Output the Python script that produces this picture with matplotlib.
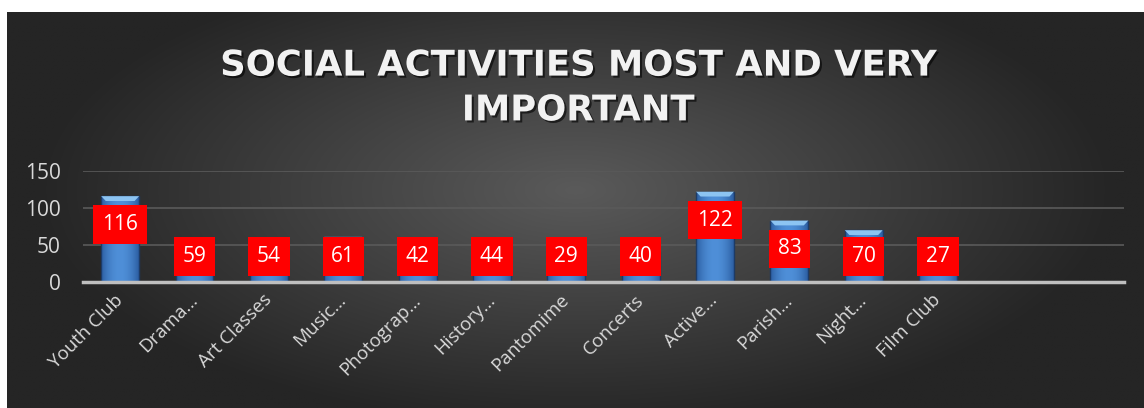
import numpy as np
import matplotlib
matplotlib.use("Agg")
import matplotlib.pyplot as plt
from matplotlib.patches import Polygon
import matplotlib.patheffects as pe

# data
categories = ["Youth Club", "Drama…", "Art Classes", "Music…", "Photograp…",
              "History…", "Pantomime", "Concerts", "Active…", "Parish…",
              "Night…", "Film Club", "", ""]
values = [116, 59, 54, 61, 42, 44, 29, 40, 122, 83, 70, 27]
yticks = [0, 50, 100, 150]
title = "SOCIAL ACTIVITIES MOST AND VERY\nIMPORTANT"

FONT = "Open Sans"
W, H = 1144, 408
fig = plt.figure(figsize=(W / 100, H / 100), dpi=100)
fig.patch.set_facecolor("white")

# dark panel with radial gradient
bg = fig.add_axes([7 / W, 0, 1 - 7 / W, 1 - 12 / H])
bg.set_axis_off()
yy, xx = np.mgrid[-1:1:300j, -1:1:800j]
r = np.sqrt((xx / 0.95) ** 2 + ((yy + 0.1) / 1.2) ** 2)
r = np.clip(r, 0, 1)
c0 = np.array([0x5a, 0x5a, 0x5a]) / 255
c1 = np.array([0x25, 0x25, 0x25]) / 255
img = c0[None, None, :] * (1 - r[..., None]) + c1[None, None, :] * r[..., None]
bg.imshow(img, aspect="auto", extent=[0, 1, 0, 1])
bg.set_xlim(0, 1)
bg.set_ylim(0, 1)

ax = fig.add_axes([83 / W, (H - 282) / H, 1041 / W, 111 / H])
ax.set_facecolor("none")
x = np.arange(len(categories))

for s in ["top", "right", "left"]:
    ax.spines[s].set_visible(False)
ax.spines["bottom"].set_color("#bfbfbf")
ax.spines["bottom"].set_linewidth(2.5)
ax.spines["bottom"].set_zorder(5)

ax.set_yticks(yticks)
ax.yaxis.grid(True, color="#5a5a5a", linewidth=1.2)
ax.set_axisbelow(True)
ax.tick_params(axis="both", length=0, colors="#d9d9d9")
ax.tick_params(axis="y", labelsize=15, pad=16)
for lb in ax.get_yticklabels():
    lb.set_fontfamily(FONT)

ax.set_xticks(x)
ax.set_xticklabels(categories, rotation=45, ha="right", va="center",
                   rotation_mode="anchor", fontsize=13.5, family=FONT,
                   color="#d9d9d9")
ax.tick_params(axis="x", pad=11)

# bars with horizontal gradient
bw = 0.51
bars = ax.bar(x[:len(values)], values, width=bw, color="none",
              edgecolor="#1d3b66", linewidth=1.0, zorder=3)
grad = np.linspace(-1, 1, 64)
shade = 1 - np.abs(grad) ** 2
cdark = np.array([0x2c, 0x5e, 0xa2]) / 255
clight = np.array([0x4f, 0x8f, 0xd8]) / 255
gimg = cdark[None, :] * (1 - shade[:, None]) + clight[None, :] * shade[:, None]
gimg = gimg[None, :, :]
bev = 6.5  # top bevel height in data units
for b, v in zip(bars, values):
    x0 = b.get_x()
    im = ax.imshow(gimg, aspect="auto", extent=[x0, x0 + bw, 0, v],
                   zorder=2.5)
    im.set_clip_path(b)
    inset = bw * 0.12
    top = Polygon([[x0, v], [x0 + bw, v], [x0 + bw - inset, v - bev],
                   [x0 + inset, v - bev]], closed=True,
                  facecolor="#8cc4f2", edgecolor="none", zorder=3.2)
    ax.add_patch(top)
ax.set_xlim(-0.5, len(categories) - 0.5)
ax.set_ylim(0, 150)

# data labels (inside end, kept above the axis)
for xi, v in zip(x, values):
    ytop = max(v - 9.5, 63.5)
    ax.text(xi, ytop - 25.5, str(v), ha="center", va="center_baseline",
            fontsize=15, family=FONT, color="white", zorder=6,
            bbox=dict(boxstyle="square,pad=0.42", facecolor="#ff0000",
                      edgecolor="none"))

fig.text(0.5 + 6 / W, 1 - 88 / H, title, ha="center", va="center",
         fontsize=25.5, fontweight="bold", family="DejaVu Sans",
         color="#f2f2f2", linespacing=1.4,
         path_effects=[pe.withSimplePatchShadow(offset=(1.5, -1.5),
                                                shadow_rgbFace="black",
                                                alpha=0.6)])

fig.savefig("out.png", dpi=100, facecolor=fig.get_facecolor())
